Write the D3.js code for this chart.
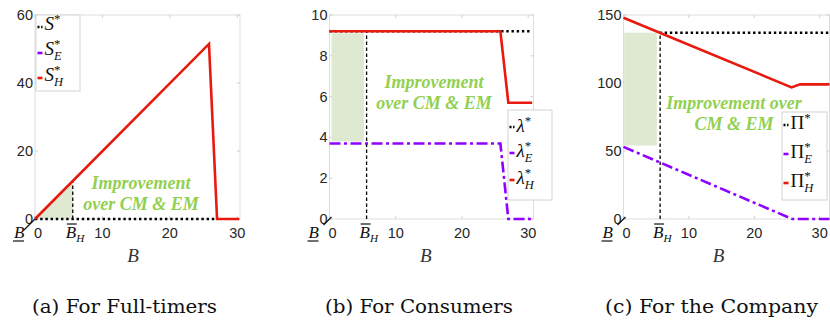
<!DOCTYPE html>
<html><head><meta charset="utf-8">
<script src="https://cdn.jsdelivr.net/npm/d3@7"></script>
<style>
body{margin:0;background:#fff}svg{display:block}
.serif{font-family:"Liberation Serif","Times New Roman",serif}
.sans{font-family:"Liberation Sans",Arial,sans-serif}
.cap{font-family:"DejaVu Serif",serif}
</style>
</head><body>
<svg id="chart" width="830" height="322"></svg>
<script>
// ---- data ----
const xTicks = [0, 10, 20, 30];
const bH = 5.6;
// panel (a) full-timers
const aXDomain = [0, 30.4];
const aYTicks = [0, 20, 40, 60];
const aHB = [0, 25.8, 27, 30.3];
const aH = [0, 51.5, 0, 0];
const aStarB = [0, 26.6];
const aStar = [0, 0];
const aShadeB = [0, 5.6, 5.6];
const aShadeY = [0, 11.2, 0];
// panel (b) consumers
const bXDomain = [0, 30.8];
const bYTicks = [0, 2, 4, 6, 8, 10];
const bHB = [0, 25.8, 27, 30.6];
const bH_ = [9.2, 9.2, 5.7, 5.7];
const bStarB = [0, 30.6];
const bStar = [9.2, 9.2];
const bEB = [0, 25.8, 27, 30.6];
const bE = [3.7, 3.7, 0, 0];
const bShadeB = [0.3, 5.2];
const bShadeY = [3.8, 9.1];
// panel (c) company
const cXDomain = [0, 31.5];
const cYTicks = [0, 50, 100, 150];
const cHB = [0, 25.7, 27, 31.5];
const cH = [148, 96.8, 99, 99];
const cStarB = [5.5, 31.5];
const cStar = [137, 137];
const cEB = [0, 25.8, 31.5];
const cE = [53, 0, 0];
const cShadeB = [0.1, 5.1];
const cShadeY = [54, 137];
// captions
const captions = ["(a) For Full-timers", "(b) For Consumers", "(c) For the Company"];

const RED = "#e8190e", PURPLE = "#8f00ff", GREEN_TXT = "#92d050", SHADE = "#dfe9d1";
const svg = d3.select("#chart");
const plotTop = 15, plotBottom = 219;

function mathText(g, x, y, base, sup, sub, opt) {
  opt = opt || {};
  const fs = opt.fs || 17;
  const t = g.append("text").attr("class", "serif").attr("x", x).attr("y", y)
    .style("font-size", fs + "px").attr("fill", "#111");
  t.append("tspan").style("font-style", opt.upright ? "normal" : "italic").text(base);
  if (sup) t.append("tspan").style("font-size", (fs * 0.68) + "px").attr("dy", -fs * 0.35).text(sup);
  if (sub) t.append("tspan").style("font-size", (fs * 0.66) + "px").style("font-style", "italic")
    .attr("dx", sup ? -fs * 0.34 : 0).attr("dy", sup ? fs * 0.62 : fs * 0.25).text(sub);
  return t;
}

function panel(cfg) {
  const x = d3.scaleLinear().domain(cfg.xDomain).range([cfg.left, cfg.left + cfg.width]);
  const y = d3.scaleLinear().domain(cfg.yDomain).range([plotBottom, plotTop]);
  const g = svg.append("g");
  g.append("rect").attr("x", x(cfg.xDomain[0])).attr("y", plotTop).attr("width", cfg.width).attr("height", plotBottom - plotTop)
    .attr("fill", "#fff").attr("stroke", "#dedede").attr("stroke-width", 1);
  const tk = g.append("g").attr("stroke", "#d0d0d0");
  cfg.yTicks.forEach(v => {
    tk.append("line").attr("x1", x(cfg.xDomain[0])).attr("x2", x(cfg.xDomain[0]) + 3).attr("y1", y(v)).attr("y2", y(v));
    tk.append("line").attr("x1", x(cfg.xDomain[1])).attr("x2", x(cfg.xDomain[1]) - 3).attr("y1", y(v)).attr("y2", y(v));
  });
  xTicks.forEach(v => {
    tk.append("line").attr("x1", x(v)).attr("x2", x(v)).attr("y1", plotBottom).attr("y2", plotBottom - 3);
    tk.append("line").attr("x1", x(v)).attr("x2", x(v)).attr("y1", plotTop).attr("y2", plotTop + 3);
  });
  const lab = g.append("g").attr("class", "sans").style("font-size", "14.5px").attr("fill", "#262626");
  cfg.yTicks.forEach(v => lab.append("text").attr("x", x(0) - 2).attr("y", y(v) + 5).attr("text-anchor", "end").text(v));
  xTicks.forEach(v => lab.append("text").attr("x", x(v) + (v === 0 ? 3 : 0)).attr("y", 238).attr("text-anchor", "middle").text(v));
  mathText(g, x(0) - 21, 238, "B");
  g.append("line").attr("x1", x(0) - 22).attr("x2", x(0) - 11).attr("y1", 241).attr("y2", 241).attr("stroke", "#111").attr("stroke-width", 1.2);
  mathText(g, x(bH) - 7, 238, "B", null, "H");
  g.append("line").attr("x1", x(bH) - 6).attr("x2", x(bH) + 4).attr("y1", 224).attr("y2", 224).attr("stroke", "#111").attr("stroke-width", 1.2);
  g.append("text").attr("class", "serif").attr("x", x(15) - 3).attr("y", 262).style("font-style", "italic")
    .style("font-size", "19px").attr("fill", "#333").attr("text-anchor", "middle").text("B");
  g.append("line").attr("x1", x(0) - (cfg.slashLong ? 11 : 6)).attr("y1", plotBottom + (cfg.slashLong ? 11 : 6))
    .attr("x2", x(0) + 2).attr("y2", plotBottom - 2).attr("stroke", "#111").attr("stroke-width", 1.2);
  return {g, x, y};
}

const line = (p) => d3.line().x(d => p.x(d[0])).y(d => p.y(d[1]));
const zip = (a, b) => a.map((v, i) => [v, b[i]]);

function drawLines(p, star, e, h) {
  if (star) p.g.append("path").attr("d", line(p)(star)).attr("fill", "none").attr("stroke", "#000")
    .attr("stroke-width", 2.6).attr("stroke-dasharray", "2.4,2.8");
  if (e) p.g.append("path").attr("d", line(p)(e)).attr("fill", "none").attr("stroke", PURPLE)
    .attr("stroke-width", 2.6).attr("stroke-dasharray", "11,3.5,3,3.5");
  if (h) p.g.append("path").attr("d", line(p)(h)).attr("fill", "none").attr("stroke", RED).attr("stroke-width", 2.6);
}
function vDash(p, yTop) {
  p.g.append("line").attr("x1", p.x(bH)).attr("x2", p.x(bH)).attr("y1", p.y(0)).attr("y2", p.y(yTop))
    .attr("stroke", "#000").attr("stroke-width", 1.3).attr("stroke-dasharray", "3.5,2.5");
}
function greenText(p, lines, cx, y0) {
  const t = p.g.append("text").attr("class", "serif").style("font-style", "italic")
    .style("font-weight", "bold").style("font-size", "18px").attr("fill", GREEN_TXT).attr("text-anchor", "middle");
  lines.forEach((s, i) => t.append("tspan").attr("x", cx).attr("y", y0 + i * 21).text(s));
}
function legend(g, x0, y0, w, h, items) {
  g.append("rect").attr("x", x0).attr("y", y0).attr("width", w).attr("height", h)
    .attr("fill", "#fff").attr("stroke", "#d4d4d4");
  items.forEach(it => {
    const ln = g.append("line").attr("x1", x0 + 1.5).attr("x2", x0 + 6.5).attr("y1", it.ly).attr("y2", it.ly)
      .attr("stroke", it.color).attr("stroke-width", 2.6);
    if (it.dotted) ln.attr("stroke-dasharray", "2,1.6");
    mathText(g, x0 + 8.5, it.ty, it.base, "*", it.sub, {upright: it.upright, fs: 19});
  });
}

const pa = panel({left: 35, width: 205, xDomain: aXDomain, yDomain: [0, 60], yTicks: aYTicks, slashLong: true});
pa.g.append("path").attr("d", line(pa)(zip(aShadeB, aShadeY)) + "Z").attr("fill", SHADE);
vDash(pa, 11.2);
drawLines(pa, zip(aStarB, aStar), null, zip(aHB, aH));
greenText(pa, ["Improvement", "over CM & EM"], 141, 189);
legend(pa.g, 36, 15, 44, 76, [
  {color: "#000", dotted: true, ly: 27, ty: 30, base: "S"},
  {color: PURPLE, ly: 53, ty: 55, base: "S", sub: "E"},
  {color: RED, ly: 78, ty: 81, base: "S", sub: "H"}]);

const pb = panel({left: 329.5, width: 204, xDomain: bXDomain, yDomain: [0, 10], yTicks: bYTicks});
pb.g.append("rect").attr("x", pb.x(bShadeB[0])).attr("y", pb.y(bShadeY[1]))
  .attr("width", pb.x(bShadeB[1]) - pb.x(bShadeB[0])).attr("height", pb.y(bShadeY[0]) - pb.y(bShadeY[1])).attr("fill", SHADE);
vDash(pb, 9.2);
drawLines(pb, zip(bStarB, bStar), zip(bEB, bE), zip(bHB, bH_));
greenText(pb, ["Improvement", "over CM & EM"], 434, 88);
legend(pb.g, 508, 110, 44, 90, [
  {color: "#000", dotted: true, ly: 127, ty: 132, base: "λ"},
  {color: PURPLE, ly: 153, ty: 157, base: "λ", sub: "E"},
  {color: RED, ly: 180, ty: 184, base: "λ", sub: "H"}]);

const pc = panel({left: 623.5, width: 206, xDomain: cXDomain, yDomain: [0, 150], yTicks: cYTicks});
pc.g.append("rect").attr("x", pc.x(cShadeB[0])).attr("y", pc.y(cShadeY[1]))
  .attr("width", pc.x(cShadeB[1]) - pc.x(cShadeB[0])).attr("height", pc.y(cShadeY[0]) - pc.y(cShadeY[1])).attr("fill", SHADE);
vDash(pc, 137);
drawLines(pc, zip(cStarB, cStar), zip(cEB, cE), zip(cHB, cH));
greenText(pc, ["Improvement over", "CM & EM"], 734, 109);
legend(pc.g, 782, 112, 45, 88, [
  {color: "#000", dotted: true, ly: 125, ty: 129, base: "Π", upright: true},
  {color: PURPLE, ly: 154, ty: 158, base: "Π", sub: "E", upright: true},
  {color: RED, ly: 183, ty: 187, base: "Π", sub: "H", upright: true}]);

const capPos = [[32, 185], [325, 188], [605, 213]];
captions.forEach((s, i) => svg.append("text").attr("class", "cap").attr("x", capPos[i][0]).attr("y", 313)
  .attr("textLength", capPos[i][1]).attr("lengthAdjust", "spacingAndGlyphs")
  .style("font-size", "18px").attr("fill", "#111").text(s));
</script>
</body></html>
